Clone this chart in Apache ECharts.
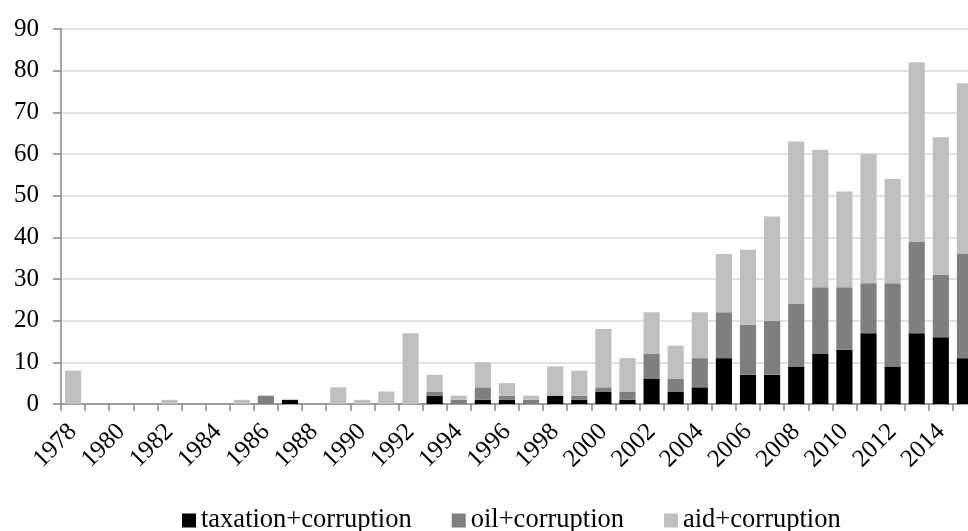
<!DOCTYPE html>
<html>
<head>
<meta charset="utf-8">
<script src="https://cdn.jsdelivr.net/npm/echarts@6/dist/echarts.min.js"></script>
<style>html,body{margin:0;padding:0;background:#fff;overflow:hidden;width:968px;height:531px;}#c{width:977px;height:531px;}</style>
</head>
<body>
<div id="c"></div>
<script>
var years = ['1978','1979','1980','1981','1982','1983','1984','1985','1986','1987','1988','1989','1990','1991','1992','1993','1994','1995','1996','1997','1998','1999','2000','2001','2002','2003','2004','2005','2006','2007','2008','2009','2010','2011','2012','2013','2014','2015'];
var taxation = [0,0,0,0,0,0,0,0,0,1,0,0,0,0,0,2,0,1,1,0,2,1,3,1,6,3,4,11,7,7,9,12,13,17,9,17,16,11];
var oil      = [0,0,0,0,0,0,0,0,2,0,0,0,0,0,0,1,1,3,1,1,0,1,1,2,6,3,7,11,12,13,15,16,15,12,20,22,15,25];
var aid      = [8,0,0,0,1,0,0,1,0,0,0,4,1,3,17,4,1,6,3,1,7,6,14,8,10,8,11,14,18,25,39,33,23,31,25,43,33,41];
var seriesNames = ['taxation+corruption','oil+corruption','aid+corruption'];

var font = "'Liberation Serif','Times New Roman',serif";
var chart = echarts.init(document.getElementById('c'), null, {renderer:'canvas'});
function mk(name, data, color){
  return {name:name, type:'bar', stack:'all', data:data, barCategoryGap:'33%',
    itemStyle:{color:color}, emphasis:{disabled:true}};
}
chart.setOption({
  animation:false,
  backgroundColor:'#fff',
  textStyle:{fontFamily:font},
  grid:{left:61, top:29, right:0, bottom:127, containLabel:false},
  legend:{
    data:seriesNames, left:182, top:507, padding:0, itemGap:40,
    itemWidth:14, itemHeight:14, icon:'rect',
    textStyle:{fontFamily:font, fontSize:26.5, color:'#000'}
  },
  xAxis:{
    type:'category', data:years, boundaryGap:true,
    axisLine:{lineStyle:{color:'#868686', width:1.5}},
    axisTick:{show:true, interval:0, length:7, lineStyle:{color:'#868686', width:1.5}},
    axisLabel:{interval:1, rotate:45, fontFamily:font, fontSize:25, color:'#000', margin:24},
    splitLine:{show:false}
  },
  yAxis:{
    type:'value', min:0, max:90, interval:10,
    axisLine:{show:true, lineStyle:{color:'#868686', width:1.5}},
    axisTick:{show:true, length:8, lineStyle:{color:'#868686', width:1.5}},
    axisLabel:{fontFamily:font, fontSize:25, color:'#000', margin:22},
    splitLine:{lineStyle:{color:'#d9d9d9', width:1.5}}
  },
  series:[
    mk(seriesNames[0], taxation, '#000000'),
    mk(seriesNames[1], oil, '#7f7f7f'),
    mk(seriesNames[2], aid, '#bfbfbf')
  ]
});
</script>
</body>
</html>
